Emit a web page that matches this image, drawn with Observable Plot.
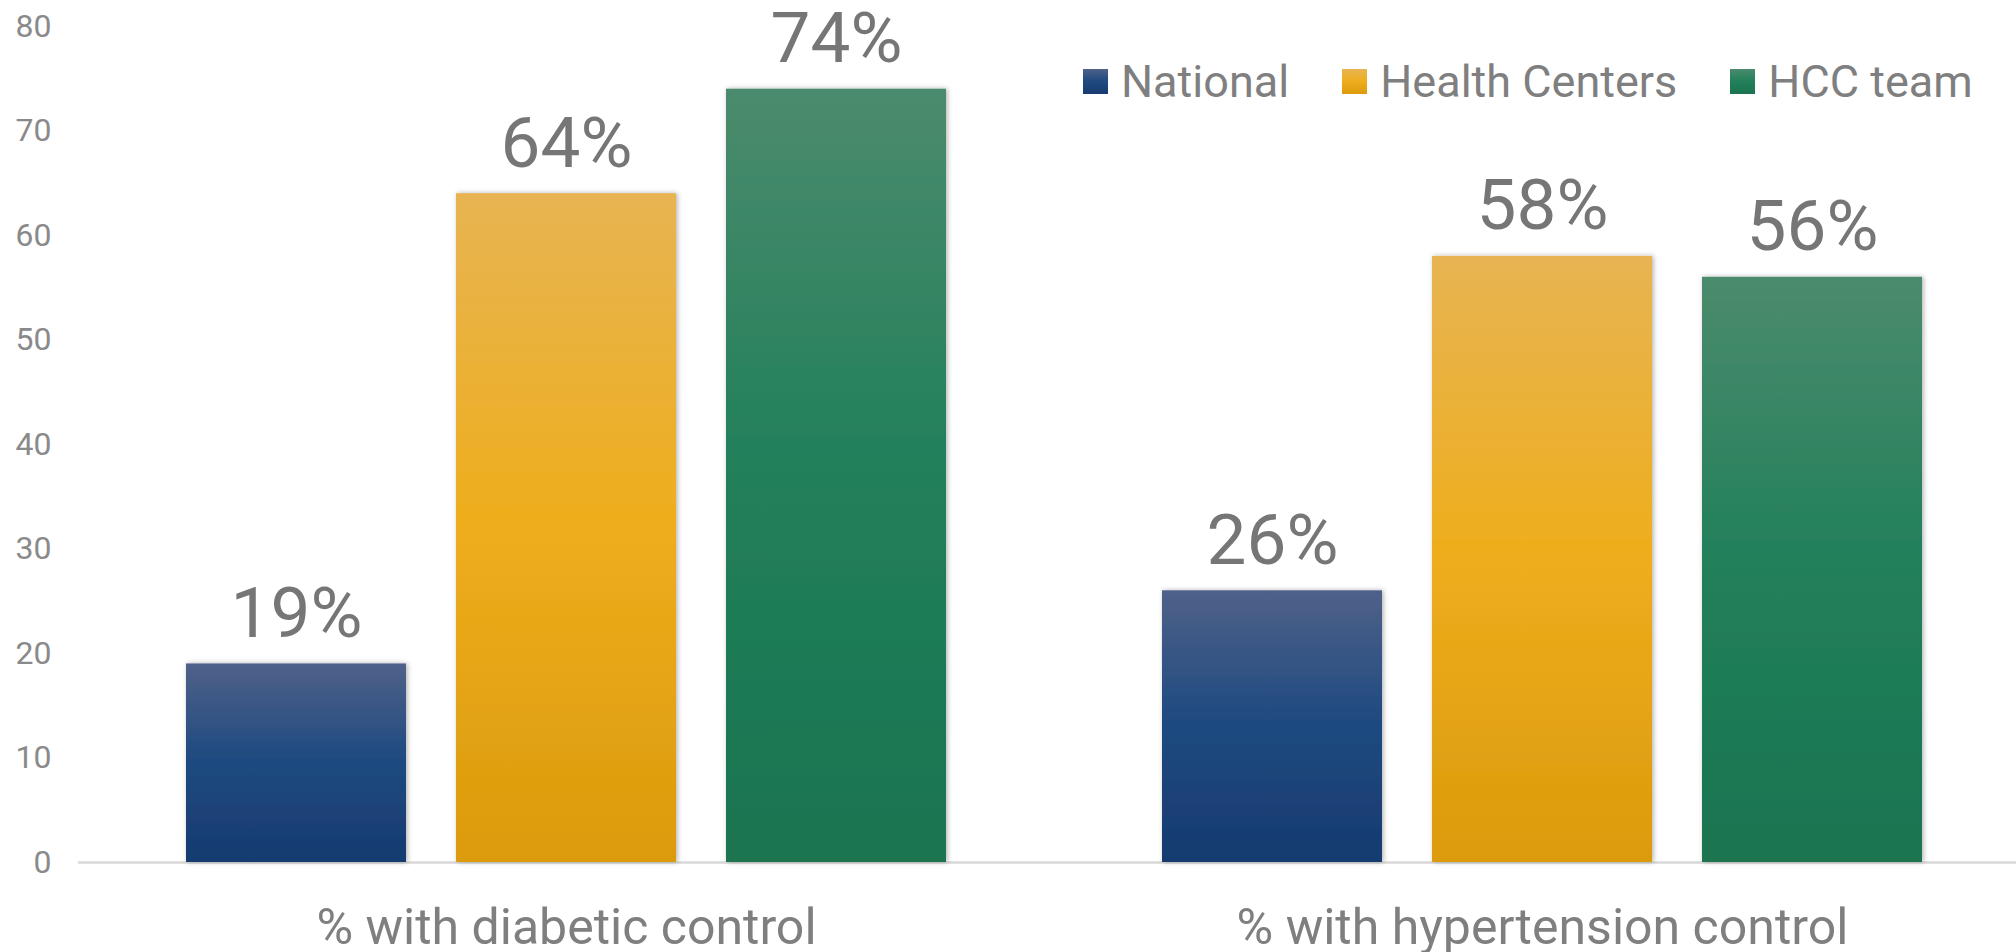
<!DOCTYPE html>
<html>
<head>
<meta charset="utf-8">
<script src="https://cdn.jsdelivr.net/npm/d3@7"></script>
<script src="https://cdn.jsdelivr.net/npm/@observablehq/plot@0.6"></script>
<style>
  body { margin: 0; background: #fff; }
  #wrap { position: relative; width: 2016px; height: 952px; font-family: Roboto, sans-serif; }
  #wrap svg { overflow: visible; }
  #legend { position: absolute; left: 1083px; top: 59px; display: flex; align-items: center;
            line-height: 45px; font-size: 45px; color: #7f7f7f; white-space: nowrap; }
  #legend .item { display: flex; align-items: center; margin-right: 53px; }
  #legend .sw { width: 25px; height: 25px; margin-right: 13px; }
</style>
</head>
<body>
<div id="wrap"><div id="legend"></div></div>
<script>
// ---- data ----
const categories = ["% with diabetic control", "% with hypertension control"];
const series = ["National", "Health Centers", "HCC team"];
const nationalValues = [19, 26];
const healthCenterValues = [64, 58];
const hccTeamValues = [74, 56];
const yTicks = [0, 10, 20, 30, 40, 50, 60, 70, 80];

// ---- styles ----
const gradientStops = [
  ["#4f6189", "#1f4a80", "#173b70"],
  ["#e7b452", "#eeae1e", "#db9b0c"],
  ["#4b8b6d", "#22805a", "#1a7450"]
];
const gradIds = ["g-national", "g-hc", "g-hcc"];

const seriesValues = [nationalValues, healthCenterValues, hccTeamValues];
const data = [];
categories.forEach((c, ci) => {
  series.forEach((s, si) => data.push({category: c, series: s, value: seriesValues[si][ci]}));
});

const plot = Plot.plot({
  width: 2016,
  height: 952,
  marginLeft: 78,
  marginRight: 0,
  marginTop: 26,
  marginBottom: 90,
  style: {fontFamily: "Roboto, sans-serif", background: "#fff", overflow: "visible"},
  fx: {domain: categories, range: [78, 2030], padding: 0},
  x: {domain: series, paddingInner: 50 / 270, paddingOuter: 0.4, align: 0.5, axis: null},
  y: {domain: [0, 80]},
  color: {domain: series, range: gradIds.map(id => `url(#${id})`)},
  marks: [
    Plot.axisY({ticks: yTicks, tickSize: 0, tickPadding: 27, fontSize: 32, fill: "#8a8a8a", label: null}),
    Plot.axisFx({anchor: "bottom", tickSize: 0, tickPadding: 46, fontSize: 50, fill: "#7f7f7f", label: null}),
    Plot.ruleY([0], {stroke: "#d9d9d9", strokeWidth: 2.5}),
    Plot.barY(data, {fx: "category", x: "series", y: "value", fill: "series"}),
    Plot.text(data, {fx: "category", x: "series", y: "value", text: d => `${d.value}%`,
      lineAnchor: "bottom", dy: -27, fontSize: 71, fill: "#767676"})
  ]
});

// gradients and shadow
const svg = d3.select(plot);
const defs = svg.insert("defs", ":first-child");
gradIds.forEach((id, i) => {
  const g = defs.append("linearGradient").attr("id", id).attr("x1", 0).attr("y1", 0).attr("x2", 0).attr("y2", 1);
  g.append("stop").attr("offset", "0%").attr("stop-color", gradientStops[i][0]);
  g.append("stop").attr("offset", "48%").attr("stop-color", gradientStops[i][1]);
  g.append("stop").attr("offset", "100%").attr("stop-color", gradientStops[i][2]);
});
const f = defs.append("filter").attr("id", "bar-shadow").attr("x", "-10%").attr("y", "-5%").attr("width", "120%").attr("height", "110%");
f.append("feDropShadow").attr("dx", 1.5).attr("dy", 0).attr("stdDeviation", 2.5).attr("flood-color", "#000").attr("flood-opacity", 0.3);
svg.selectAll("g[aria-label='bar'] rect").style("filter", "url(#bar-shadow)");

document.getElementById("wrap").insertBefore(plot, document.getElementById("legend"));

// legend
const legend = d3.select("#legend");
series.forEach((s, i) => {
  const item = legend.append("div").attr("class", "item");
  item.append("div").attr("class", "sw")
    .style("background", `linear-gradient(${gradientStops[i][0]}, ${gradientStops[i][1]} 48%, ${gradientStops[i][2]})`);
  item.append("span").text(s);
});
</script>
</body>
</html>
